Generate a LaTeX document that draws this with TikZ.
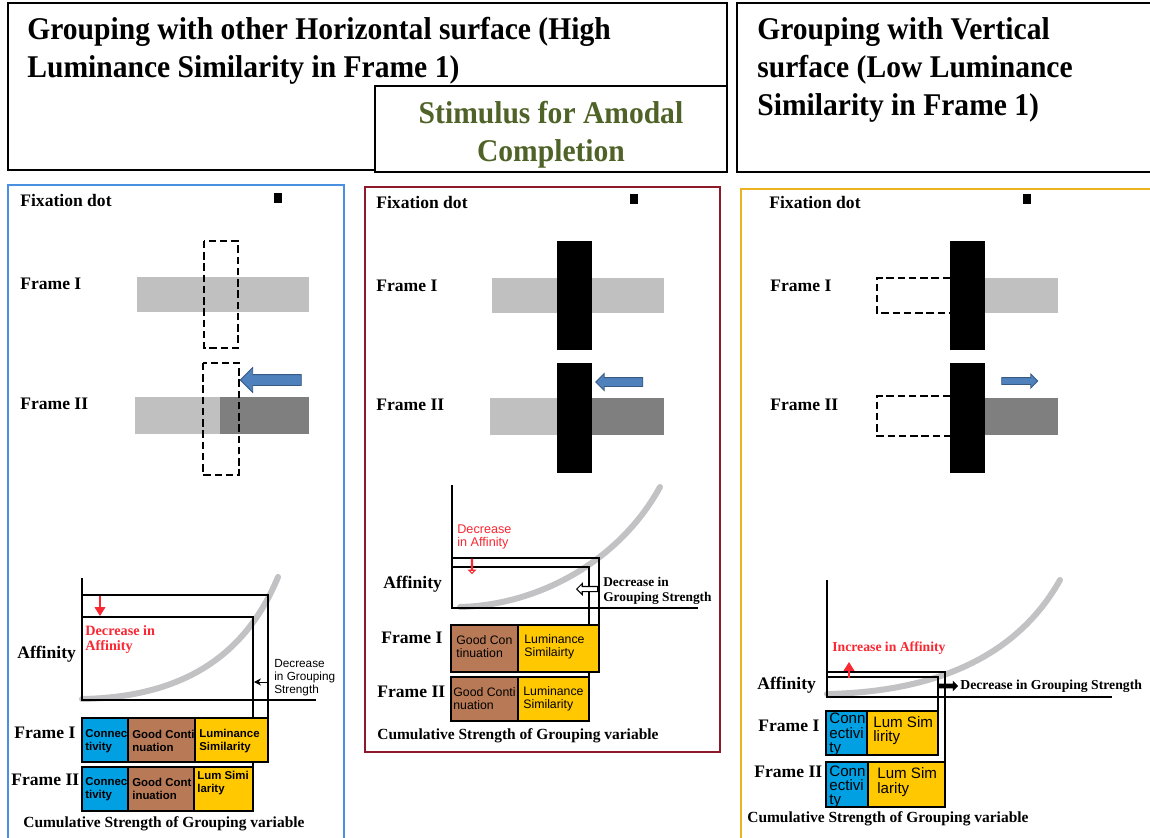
\documentclass[tikz,border=0pt]{standalone}
\usepackage{fontspec}
\setmainfont{Liberation Serif}
\setsansfont{Liberation Sans}
\newfontfamily\headfont[FakeStretch=0.935]{Liberation Serif}
\usetikzlibrary{arrows.meta,shapes.arrows}
\definecolor{panelblue}{RGB}{74,144,226}
\definecolor{panelred}{RGB}{140,26,42}
\definecolor{panelgold}{RGB}{235,180,30}
\definecolor{headgreen}{RGB}{79,98,40}
\definecolor{conblue}{RGB}{0,160,226}
\definecolor{contbrown}{RGB}{184,122,86}
\definecolor{lumyellow}{RGB}{255,200,0}
\definecolor{barlight}{RGB}{192,192,192}
\definecolor{bardark}{RGB}{127,127,127}
\definecolor{curvegray}{RGB}{194,194,196}
\definecolor{arrowblue}{RGB}{79,129,189}
\definecolor{affred}{RGB}{250,40,50}

\begin{document}
\begin{tikzpicture}[
    x=0.02cm, y=-0.02cm,
    every node/.style={inner sep=0pt},
    headtext/.style={align=left, font=\headfont\fontsize{18}{21.6}\selectfont\bfseries},
    lbl/.style={anchor=west, font=\fontsize{10}{12}\selectfont\bfseries},
    cumtext/.style={anchor=west, font=\fontsize{8.8}{10}\selectfont\bfseries},
    segtext/.style={anchor=west, align=left},
    seg/.style={draw=black, line width=0.8pt},
    axisline/.style={line width=0.9pt},
    affcurve/.style={draw=curvegray, line width=0.12cm, line cap=round},
    dashbox/.style={draw=black, line width=1.2pt, dash pattern=on 4.2pt off 2.2pt},
    movearrow/.style={single arrow, fill=arrowblue, draw=arrowblue!70!black, line width=0.5pt, inner xsep=0pt},
    hollowarrow/.style={single arrow, fill=white, line width=0.6pt, inner xsep=0pt}
  ]
    \useasboundingbox (0,0) rectangle (1150,838);
    \fill[white] (0,0) rectangle (1150,838);
    \clip (0,0) rectangle (1150,838);

    % headings
    \draw[line width=0.8pt] (8,3) rectangle (727,170);
    \node[headtext, anchor=north west] (headleft) at (27,17) {Grouping with other Horizontal surface (High\\Luminance Similarity in Frame 1)};
    \draw[line width=0.8pt, fill=white] (375,86) rectangle (727,172);
    \node[headtext, anchor=north, align=center, text=headgreen] (headmid) at (551,101) {Stimulus for Amodal\\Completion};
    \draw[line width=0.8pt] (737,3) rectangle (1160,172);
    \node[headtext, anchor=north west] (headright) at (757,17) {Grouping with Vertical\\surface (Low Luminance\\Similarity in Frame 1)};

    % horizontal grouping panel
    \draw[panelblue, line width=1.2pt] (8,185) rectangle (344,850);
    \node[lbl] (fixA) at (20,200) {Fixation dot};
    \fill (274,193) rectangle (282,203);
    \node[lbl] (frameIA) at (20,284) {Frame I};
    \fill[barlight] (137,277) rectangle (309,312);
    \draw[dashbox] (204,241) rectangle (238,348);
    \node[lbl] (frameIIA) at (20,404) {Frame II};
    \fill[barlight] (135,397) rectangle (220,434);
    \fill[bardark] (220,397) rectangle (309,434);
    \draw[dashbox] (203,363) rectangle (239,475);
    \node[movearrow, minimum height=1.22cm, inner ysep=0.1cm, single arrow head extend=0.14cm, shape border rotate=180] (moveA) at (273.5,380) {};

    \draw[affcurve] (82,699) .. controls (195,697) and (250,645) .. (278,577);
    \draw[axisline] (82,578) -- (82,700) -- (316,700);
    \draw[axisline] (82,595) -- (268,595) -- (268,718);
    \draw[axisline] (82,617) -- (253,617) -- (253,767);
    \draw[affred, line width=0.9pt, -{Triangle[width=6pt,length=5pt]}] (100,596) -- (100,616);
    \node[segtext, text=affred, font=\fontsize{8.1}{8.5}\selectfont\bfseries] (decA) at (85,639.5) {Decrease in\\Affinity};
    \node[lbl] (affA) at (17,654) {Affinity};
    \node[segtext, font=\sffamily\fontsize{6.7}{7.4}\selectfont] (grpA) at (274,678) {Decrease\\in Grouping\\Strength};
    \draw[-{Stealth[length=4pt,width=4pt]}, line width=0.5pt] (268,682) -- (254,682);

    \draw[seg, fill=conblue] (82,718) rectangle (128,762);
    \draw[seg, fill=contbrown] (128,718) rectangle (195,762);
    \draw[seg, fill=lumyellow] (195,718) rectangle (268,762);
    \draw[seg, fill=conblue] (82,767) rectangle (128,811);
    \draw[seg, fill=contbrown] (128,767) rectangle (194,811);
    \draw[seg, fill=lumyellow] (194,767) rectangle (253,811);
    \begin{scope}[every node/.append style={font=\sffamily\fontsize{6.5}{7.4}\selectfont\bfseries}]
      \node[segtext] (conIA) at (85,741) {Connec\\tivity};
      \node[segtext] (contIA) at (132,741) {Good Conti\\nuation};
      \node[segtext] (lumIA) at (199,741) {Luminance\\Similarity};
      \node[segtext] (conIIA) at (85,789) {Connec\\tivity};
      \node[segtext] (contIIA) at (132,789) {Good Cont\\inuation};
      \node[segtext] (lumIIA) at (197,783.5) {Lum Simi\\larity};
    \end{scope}
    \node[lbl] (barIA) at (14,733) {Frame I};
    \node[lbl] (barIIA) at (11,780) {Frame II};
    \node[cumtext] (cumA) at (23,824) {Cumulative Strength of Grouping variable};

    % amodal completion panel
    \draw[panelred, line width=1.2pt] (365,187) rectangle (720,752);
    \node[lbl] (fixB) at (376,202) {Fixation dot};
    \fill (630,194) rectangle (638,204);
    \node[lbl] (frameIB) at (376,286) {Frame I};
    \fill[barlight] (492,278) rectangle (664,313);
    \fill (557,241) rectangle (592,350);
    \node[lbl] (frameIIB) at (376,405) {Frame II};
    \fill[barlight] (490,398) rectangle (591,435);
    \fill[bardark] (591,398) rectangle (664,435);
    \fill (557,363) rectangle (592,473);
    \node[movearrow, minimum height=0.94cm, inner ysep=0.08cm, single arrow head extend=0.08cm, shape border rotate=180] (moveB) at (621.5,382) {};

    \draw[affcurve] (460,607) .. controls (540,605) and (620,560) .. (660,487);
    \draw[axisline] (452,485) -- (452,608) -- (698,608);
    \draw[axisline] (452,558) -- (599,558) -- (599,625);
    \draw[axisline] (452,567) -- (589,567) -- (589,677);
    \node[hollowarrow, draw=affred, minimum height=0.28cm, inner ysep=0.05cm, single arrow head extend=0.05cm, shape border rotate=270] (dropB) at (472,566) {};
    \node[segtext, text=affred, font=\sffamily\fontsize{7.2}{7.4}\selectfont] (decB) at (457,536.5) {Decrease\\in Affinity};
    \node[hollowarrow, draw=black, minimum height=0.42cm, inner ysep=0.04cm, single arrow head extend=0.06cm, shape border rotate=180] (shiftB) at (588.5,589) {};
    \node[segtext, font=\fontsize{7.6}{8.5}\selectfont\bfseries] (grpB) at (603,590.5) {Decrease in\\Grouping Strength};
    \node[lbl] (affB) at (383,584) {Affinity};

    \draw[seg, fill=contbrown] (451,625) rectangle (518,672);
    \draw[seg, fill=lumyellow] (518,625) rectangle (599,672);
    \draw[seg, fill=contbrown] (451,677) rectangle (518,721);
    \draw[seg, fill=lumyellow] (518,677) rectangle (589,721);
    \begin{scope}[every node/.append style={font=\sffamily\fontsize{7}{7.4}\selectfont}]
      \node[segtext] (contIB) at (456,647) {Good Con\\tinuation};
      \node[segtext] (lumIB) at (524,647) {Luminance\\Similairty};
      \node[segtext] (contIIB) at (453,699) {Good Conti\\nuation};
      \node[segtext] (lumIIB) at (523,699) {Luminance\\Similarity};
    \end{scope}
    \node[lbl] (barIB) at (381,638) {Frame I};
    \node[lbl] (barIIB) at (377,692) {Frame II};
    \node[cumtext] (cumB) at (377,736) {Cumulative Strength of Grouping variable};

    % vertical grouping panel
    \draw[panelgold, line width=1.2pt] (741,189) rectangle (1160,850);
    \node[lbl] (fixC) at (769,202) {Fixation dot};
    \fill (1023,194) rectangle (1031,204);
    \node[lbl] (frameIC) at (770,286) {Frame I};
    \fill (950,241) rectangle (985,350);
    \fill[barlight] (985,278) rectangle (1058,313);
    \draw[dashbox] (950,278) -- (877,278) -- (877,313) -- (950,313);
    \node[lbl] (frameIIC) at (770,405) {Frame II};
    \fill (950,363) rectangle (985,473);
    \fill[bardark] (985,398) rectangle (1058,435);
    \draw[dashbox] (950,396) -- (877,396) -- (877,436) -- (950,436);
    \node[movearrow, minimum height=0.72cm, inner ysep=0.06cm, single arrow head extend=0.07cm] (moveC) at (1018,381) {};

    \draw[affcurve] (827,694) .. controls (930,692) and (1015,660) .. (1060,580);
    \draw[axisline] (827,580) -- (827,697) -- (1112,697);
    \draw[axisline] (827,672) -- (945,672) -- (945,807);
    \draw[axisline] (827,677) -- (938,677) -- (938,755);
    \draw[affred, line width=0.9pt, -{Triangle[width=6pt,length=5pt]}] (849,678) -- (849,662);
    \node[segtext, text=affred, font=\fontsize{7.8}{9}\selectfont\bfseries] (incC) at (832,648) {Increase in Affinity};
    \node[single arrow, fill=black, minimum height=0.38cm, inner xsep=0pt, inner ysep=0.04cm, single arrow head extend=0.06cm] (shiftC) at (947.5,686) {};
    \node[segtext, font=\fontsize{7.8}{9}\selectfont\bfseries] (grpC) at (960,686) {Decrease in Grouping Strength};
    \node[lbl] (affC) at (757,685) {Affinity};

    \draw[seg, fill=conblue] (826,711) rectangle (867,755);
    \draw[seg, fill=lumyellow] (867,711) rectangle (938,755);
    \draw[seg, fill=conblue] (826,762) rectangle (868,807);
    \draw[seg, fill=lumyellow] (868,762) rectangle (945,807);
    \begin{scope}[every node/.append style={font=\sffamily\fontsize{8.6}{8.1}\selectfont}]
      \begin{scope}
        \clip (827,712) rectangle (866,754);
        \node[segtext] (conIC) at (829,734.5) {Conn\\ectivi\\ty};
      \end{scope}
      \node[segtext] (lumIC) at (873,730.5) {Lum Sim\\lirity};
      \begin{scope}
        \clip (827,763) rectangle (867,806);
        \node[segtext] (conIIC) at (829,787) {Conn\\ectivi\\ty};
      \end{scope}
      \node[segtext] (lumIIC) at (877,782) {Lum Sim\\larity};
    \end{scope}
    \node[lbl] (barIC) at (758,726) {Frame I};
    \node[lbl] (barIIC) at (754,772) {Frame II};
    \node[cumtext] (cumC) at (747,819) {Cumulative Strength of Grouping variable};
  \end{tikzpicture}
\end{document}
